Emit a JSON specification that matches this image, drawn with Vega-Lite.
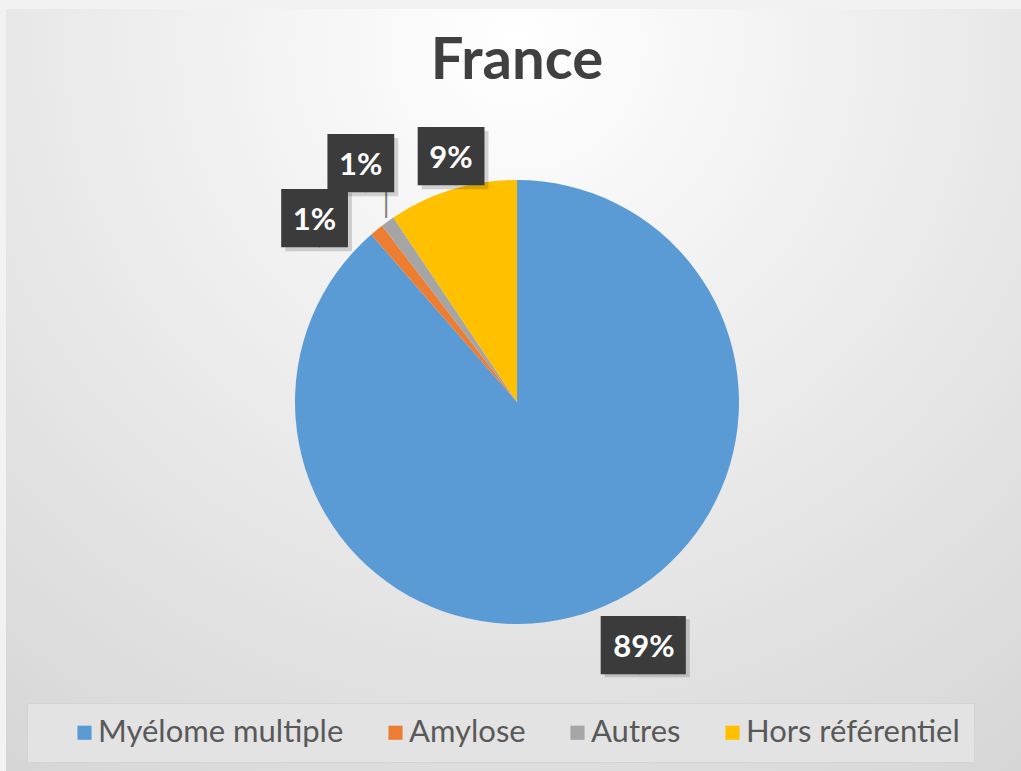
{
  "$schema": "https://vega.github.io/schema/vega-lite/v6.json",
  "width": 1022,
  "height": 786,
  "autosize": {"type": "none"},
  "padding": {"left": 6, "top": 9, "right": 0, "bottom": 0},
  "background": "#f2f2f2",
  "title": {"text": "France", "font": "Lato", "fontSize": 58, "fontWeight": "bold", "color": "#404040", "anchor": "middle", "offset": -82},
  "data": {"values": [
    {"categorie": "Myélome multiple", "part": 0.886, "ordre": 1},
    {"categorie": "Amylose", "part": 0.010, "ordre": 2},
    {"categorie": "Autres", "part": 0.010, "ordre": 3},
    {"categorie": "Hors référentiel", "part": 0.094, "ordre": 4}
  ]},
  "config": {"view": {"stroke": null}},
  "layer": [
    {
      "data": {"values": [{"fond": 1}]},
      "mark": {"type": "rect", "color": {"gradient": "radial", "x1": 0.5, "y1": 0.15, "r1": 0, "x2": 0.5, "y2": 0.15, "r2": 0.95, "stops": [{"offset": 0, "color": "#ffffff"}, {"offset": 1, "color": "#d2d2d2"}]}},
      "encoding": {}
    },
    {
      "mark": {"type": "arc", "outerRadius": 222},
      "encoding": {
        "theta": {"field": "part", "type": "quantitative", "stack": true},
        "order": {"field": "ordre", "type": "quantitative"},
        "color": {
          "field": "categorie", "type": "nominal",
          "scale": {"domain": ["Myélome multiple", "Amylose", "Autres", "Hors référentiel"], "range": ["#5B9BD5", "#ED7D31", "#A5A5A5", "#FFC000"]},
          "legend": {
            "title": " ", "titleOrient": "left", "titleFontSize": 28, "titlePadding": 28,
            "orient": "none", "legendX": 21, "legendY": 694, "direction": "horizontal",
            "symbolType": "square", "symbolSize": 200, "symbolStrokeWidth": 0,
            "labelFont": "Lato", "labelFontSize": 31, "labelColor": "#595959", "labelOffset": -2, "labelLimit": 500,
            "labelExpr": "indexof(datum.label, 'Hors') >= 0 ? datum.label + '\u2003\u2003' : datum.label",
            "fillColor": "#e3e3e3", "strokeColor": "#d4d4d4", "padding": 14, "columnPadding": 36
          }
        }
      }
    },
    {
      "mark": {"type": "text", "radius": 233, "font": "DejaVu Sans", "fontSize": 24, "color": "#7f7f7f", "align": "center", "baseline": "middle", "dx": 5, "dy": -8},
      "encoding": {
        "theta": {"field": "part", "type": "quantitative", "stack": true},
        "order": {"field": "ordre", "type": "quantitative"},
        "text": {"condition": {"test": "datum.categorie === 'Autres'", "value": "│"}, "value": ""}
      }
    },
    {
      "mark": {"type": "text", "radius": 265, "font": "DejaVu Sans", "fontSize": 49, "color": "#000000", "opacity": 0.15, "align": "center", "baseline": "middle",
        "dx": {"expr": "(datum.categorie === 'Myélome multiple' ? 34 + 14 : datum.categorie === 'Amylose' ? -35 + 5 : datum.categorie === 'Autres' ? -2 + 5 : 11 + 5) + 4"},
        "dy": {"expr": "(datum.categorie === 'Myélome multiple' ? -4 : datum.categorie === 'Amylose' ? 23 : datum.categorie === 'Autres' ? -22 : 10) + 4"}},
      "encoding": {
        "theta": {"field": "part", "type": "quantitative", "stack": true},
        "order": {"field": "ordre", "type": "quantitative"},
        "text": {"condition": {"test": "datum.categorie === 'Myélome multiple'", "value": "██▎"}, "value": "█▊"}
      }
    },
    {
      "mark": {"type": "text", "radius": 265, "font": "DejaVu Sans", "fontSize": 49, "color": "#3b3b3b", "align": "center", "baseline": "middle",
        "dx": {"expr": "datum.categorie === 'Myélome multiple' ? 34 + 14 : datum.categorie === 'Amylose' ? -35 + 5 : datum.categorie === 'Autres' ? -2 + 5 : 11 + 5"},
        "dy": {"expr": "datum.categorie === 'Myélome multiple' ? -3 : datum.categorie === 'Amylose' ? 23 : datum.categorie === 'Autres' ? -22 : 10"}},
      "encoding": {
        "theta": {"field": "part", "type": "quantitative", "stack": true},
        "order": {"field": "ordre", "type": "quantitative"},
        "text": {"condition": {"test": "datum.categorie === 'Myélome multiple'", "value": "██▎"}, "value": "█▊"}
      }
    },
    {
      "mark": {"type": "text", "radius": 265, "font": "Lato", "fontSize": 31, "fontWeight": "bold", "color": "#ffffff", "align": "center", "baseline": "middle",
        "dx": {"expr": "datum.categorie === 'Myélome multiple' ? 34 : datum.categorie === 'Amylose' ? -35 : datum.categorie === 'Autres' ? -2 : 11"},
        "dy": {"expr": "datum.categorie === 'Myélome multiple' ? -2 : datum.categorie === 'Amylose' ? 24 : datum.categorie === 'Autres' ? -21 : 11"}},
      "encoding": {
        "theta": {"field": "part", "type": "quantitative", "stack": true},
        "order": {"field": "ordre", "type": "quantitative"},
        "text": {"field": "part", "type": "quantitative", "format": ".0%"}
      }
    }
  ]
}
